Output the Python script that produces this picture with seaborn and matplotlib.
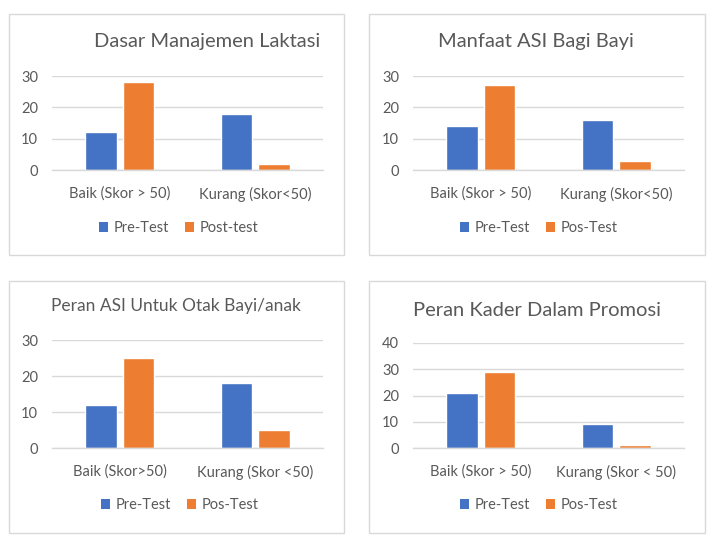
import matplotlib
matplotlib.use("Agg")
import matplotlib.pyplot as plt
from matplotlib.patches import Rectangle, Patch
import seaborn as sns
import pandas as pd

titles = ["Dasar Manajemen Laktasi", "Manfaat ASI Bagi Bayi",
          "Peran ASI Untuk Otak Bayi/anak", "Peran Kader Dalam Promosi"]
categories = [["Baik (Skor > 50)", "Kurang (Skor<50)"],
              ["Baik (Skor > 50)", "Kurang (Skor<50)"],
              ["Baik (Skor>50)", "Kurang (Skor <50)"],
              ["Baik (Skor > 50)", "Kurang (Skor < 50)"]]
series_names = [["Pre-Test", "Post-test"],
                ["Pre-Test", "Pos-Test"],
                ["Pre-Test", "Pos-Test"],
                ["Pre-Test", "Pos-Test"]]
pre_values = [[12, 18], [14, 16], [12, 18], [21, 9]]
post_values = [[28, 2], [27, 3], [25, 5], [29, 1]]
y_max = [30, 30, 30, 40]
y_ticks = [[0, 10, 20, 30], [0, 10, 20, 30], [0, 10, 20, 30], [0, 10, 20, 30, 40]]

BLUE = "#4472C4"
ORANGE = "#ED7D31"
GRID = "#D9D9D9"
TEXT = "#595959"

sns.set_theme(style="white")
plt.rcParams["font.family"] = ["Lato", "DejaVu Sans"]

W, H = 712, 537
fig = plt.figure(figsize=(W / 100, H / 100), dpi=100)

def fx(x):
    return x / W

def fy(y):
    return 1 - y / H

layouts = [
    dict(border=(9, 14, 344, 255), ax=(52, 323, 170, 76), title=(207, 42), tsize=14.5, legend=(179, 228)),
    dict(border=(369, 14, 705, 255), ax=(413, 684, 170, 76), title=(536, 42), tsize=14.5, legend=(539, 228)),
    dict(border=(9, 281, 344, 533), ax=(52, 323, 448, 340), title=(176, 306), tsize=12.5, legend=(180, 505)),
    dict(border=(369, 281, 705, 533), ax=(413, 684, 448, 343), title=(537, 310), tsize=14.5, legend=(539, 505)),
]

for i in range(4):
    lay = layouts[i]
    bl, bt, br, bb = lay["border"]
    fig.patches.append(Rectangle((fx(bl), fy(bb)), fx(br - bl), (bb - bt) / H,
                                 transform=fig.transFigure, fill=False,
                                 edgecolor=GRID, linewidth=1.0, zorder=0))
    al, ar, y0, yt = lay["ax"]
    ax = fig.add_axes([fx(al), fy(y0), fx(ar - al), (y0 - yt) / H])
    df = pd.DataFrame({
        "category": categories[i] * 2,
        "value": pre_values[i] + post_values[i],
        "series": [series_names[i][0]] * 2 + [series_names[i][1]] * 2,
    })
    sns.barplot(data=df, x="category", y="value", hue="series",
                palette=[BLUE, ORANGE], width=0.55, gap=0.16,
                ax=ax, legend=False, saturation=1)
    ax.set_ylim(0, y_max[i])
    ax.set_xlim(-0.5, 1.5)
    ax.set_yticks(y_ticks[i])
    ax.yaxis.grid(True, color=GRID, linewidth=1.0)
    ax.set_axisbelow(True)
    for s in ["top", "right", "left"]:
        ax.spines[s].set_visible(False)
    ax.spines["bottom"].set_color(GRID)
    ax.spines["bottom"].set_linewidth(1.0)
    ax.set_xlabel("")
    ax.set_ylabel("")
    ax.tick_params(axis="both", length=0, labelsize=10.5, labelcolor=TEXT)
    ax.tick_params(axis="x", pad=12)
    ax.tick_params(axis="y", pad=10)
    ax.set_facecolor("none")
    tcx, tcy = lay["title"]
    fig.text(fx(tcx), fy(tcy), titles[i], ha="center", va="center",
             fontsize=lay["tsize"], color=TEXT)
    handles = [Patch(facecolor=BLUE, edgecolor="none"),
               Patch(facecolor=ORANGE, edgecolor="none")]
    lcx, lcy = lay["legend"]
    fig.legend(handles, series_names[i], loc="center", ncol=2,
               bbox_to_anchor=(fx(lcx), fy(lcy)), frameon=False,
               fontsize=10.5, labelcolor=TEXT, handlelength=0.62,
               handleheight=0.62, handletextpad=0.38, columnspacing=1.1)

fig.savefig("out.png", dpi=100, facecolor="white")
